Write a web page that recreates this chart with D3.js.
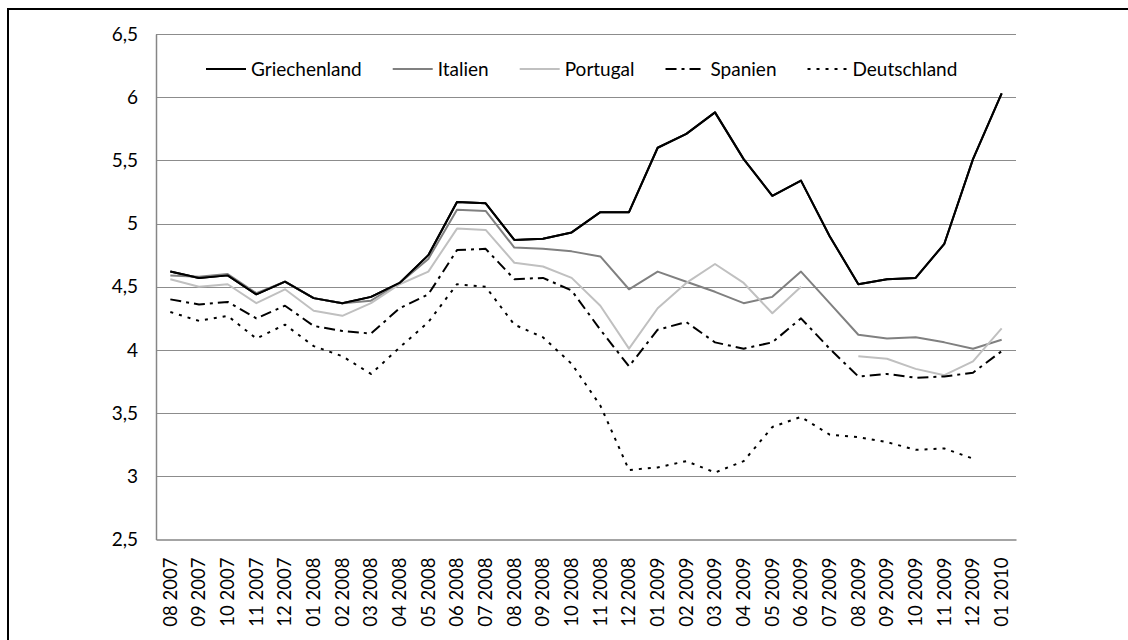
<!DOCTYPE html>
<html><head><meta charset="utf-8">
<script src="https://cdn.jsdelivr.net/npm/d3@7"></script>
<style>
html,body{margin:0;padding:0;background:#fff;}
svg{display:block;}
text{font-family:Lato,"Open Sans",sans-serif;fill:#000;}
</style></head>
<body>
<svg id="chart" width="1128" height="640"></svg>
<script>
const categories = ["08 2007","09 2007","10 2007","11 2007","12 2007","01 2008","02 2008","03 2008","04 2008","05 2008","06 2008","07 2008","08 2008","09 2008","10 2008","11 2008","12 2008","01 2009","02 2009","03 2009","04 2009","05 2009","06 2009","07 2009","08 2009","09 2009","10 2009","11 2009","12 2009","01 2010"];
const griechenland = [4.62,4.57,4.59,4.44,4.54,4.41,4.37,4.42,4.53,4.75,5.17,5.16,4.87,4.88,4.93,5.09,5.09,5.60,5.71,5.88,5.51,5.22,5.34,4.90,4.52,4.56,4.57,4.84,5.51,6.03];
const italien = [4.59,4.58,4.60,4.45,4.54,4.41,4.37,4.39,4.53,4.72,5.11,5.10,4.81,4.80,4.78,4.74,4.48,4.62,4.54,4.46,4.37,4.42,4.62,4.37,4.12,4.09,4.10,4.06,4.01,4.08];
const portugal = [4.56,4.50,4.52,4.37,4.48,4.31,4.27,4.37,4.52,4.62,4.96,4.95,4.69,4.66,4.57,4.35,4.01,4.33,4.53,4.68,4.53,4.29,4.50,null,3.95,3.93,3.85,3.80,3.91,4.17];
const spanien = [4.40,4.36,4.38,4.25,4.35,4.19,4.15,4.13,4.33,4.44,4.79,4.80,4.56,4.57,4.47,4.16,3.87,4.16,4.22,4.06,4.01,4.06,4.25,4.01,3.79,3.81,3.78,3.79,3.82,3.99];
const deutschland = [4.30,4.23,4.27,4.09,4.20,4.03,3.95,3.81,4.02,4.22,4.52,4.50,4.20,4.10,3.89,3.56,3.05,3.07,3.12,3.03,3.12,3.39,3.47,3.33,3.31,3.27,3.21,3.22,3.14,null];
const seriesNames = ["Griechenland","Italien","Portugal","Spanien","Deutschland"];
const yTicks = [2.5,3,3.5,4,4.5,5,5.5,6,6.5];

const seriesValues = [griechenland, italien, portugal, spanien, deutschland];
const styles = [
  {stroke:"#000000", dash:null},
  {stroke:"#808080", dash:null},
  {stroke:"#c0c0c0", dash:null},
  {stroke:"#000000", dash:"11,5,3,5"},
  {stroke:"#000000", dash:"3,6"}
];

const svg = d3.select("#chart");
const plot = {left:156, right:1016, top:34, bottom:539.5};

// outer frame (top and left edges visible)
svg.append("line").attr("x1",8).attr("x2",1128).attr("y1",9).attr("y2",9).attr("stroke","#000").attr("stroke-width",2);
svg.append("line").attr("x1",8).attr("x2",8).attr("y1",8).attr("y2",640).attr("stroke","#000").attr("stroke-width",2);

const x = d3.scaleBand().domain(categories).range([plot.left, plot.right]).padding(0);
const y = d3.scaleLinear().domain([2.5,6.5]).range([plot.bottom, plot.top]);
const fmt = v => String(v).replace(".", ",");

// gridlines
svg.append("g").selectAll("line").data(yTicks.filter(t => t > 2.5)).join("line")
  .attr("x1",plot.left).attr("x2",plot.right)
  .attr("y1",d=>Math.round(y(d))+0.5).attr("y2",d=>Math.round(y(d))+0.5)
  .attr("stroke","#8c8c8c").attr("stroke-width",1);

// y axis
const yAxis = svg.append("g").attr("transform",`translate(${plot.left},0)`)
  .call(d3.axisLeft(y).tickValues(yTicks).tickFormat(fmt).tickSize(0).tickPadding(18));
yAxis.select(".domain").attr("stroke","#868686").attr("stroke-width",1.5);
yAxis.selectAll("text").attr("font-size",19).attr("font-family","Lato").attr("fill","#000");

// x axis
const xAxis = svg.append("g").attr("transform",`translate(0,${plot.bottom})`)
  .call(d3.axisBottom(x).tickSize(0).tickPadding(0));
xAxis.select(".domain").attr("stroke","#868686").attr("stroke-width",1.5);
xAxis.selectAll("text")
  .attr("font-size",18.5).attr("font-family","Lato").attr("fill","#000")
  .attr("transform","rotate(-90)")
  .attr("text-anchor","end")
  .attr("x",-18).attr("y",0).attr("dy","0.35em");

// lines
const line = d3.line()
  .defined(d => d.v !== null)
  .x(d => x(d.c) + x.bandwidth()/2)
  .y(d => y(d.v));

seriesValues.forEach((vals, i) => {
  const pts = categories.map((c, j) => ({c, v: vals[j]}));
  const p = svg.append("path").datum(pts)
    .attr("fill","none")
    .attr("stroke",styles[i].stroke)
    .attr("stroke-width",2)
    .attr("stroke-linejoin","round")
    .attr("d",line);
  if (styles[i].dash) p.attr("stroke-dasharray",styles[i].dash);
});
// redraw Griechenland on top
{
  const pts = categories.map((c, j) => ({c, v: griechenland[j]}));
  svg.append("path").datum(pts).attr("fill","none").attr("stroke","#000").attr("stroke-width",2).attr("stroke-linejoin","round").attr("d",line);
}

// legend
const legend = svg.append("g");
let lx = 206;
const ly = 69;
seriesNames.forEach((name, i) => {
  const g = legend.append("g");
  const l = g.append("line").attr("x1",lx).attr("x2",lx+40).attr("y1",ly).attr("y2",ly)
    .attr("stroke",styles[i].stroke).attr("stroke-width",2);
  if (styles[i].dash) l.attr("stroke-dasharray",styles[i].dash);
  const t = g.append("text").attr("x",lx+45).attr("y",ly).attr("dy","0.35em")
    .attr("font-size",19).text(name);
  lx += 45 + t.node().getComputedTextLength() + 31;
});
</script>
</body></html>
